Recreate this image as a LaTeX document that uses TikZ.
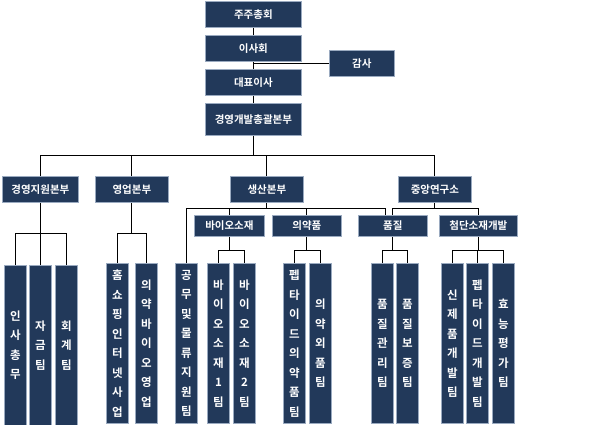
\documentclass[tikz,border=0pt]{standalone}
\usepackage{fontspec}
\newfontfamily\kr{Noto Sans CJK KR Bold}
\definecolor{navy}{HTML}{22395A}
\definecolor{edge}{HTML}{9AAAC0}
\begin{document}
\begin{tikzpicture}[x=1pt,y=-1pt,
  box/.style={draw=edge,line width=0.8pt,fill=navy,text=white,font=\kr\fontsize{10.5}{11}\selectfont,inner sep=0pt,anchor=north west},
  vbox/.style={box,minimum width=22pt,minimum height=160pt,align=center,font=\kr\fontsize{11.5}{19.5}\selectfont},
  conn/.style={line width=1pt,black}]
\useasboundingbox (0,0) rectangle (602,425);
\node[box,minimum width=96pt,minimum height=26pt] (a) at (205,1) {주주총회};
\node[box,minimum width=96pt,minimum height=26pt] (b) at (205,35) {이사회};
\node[box,minimum width=65pt,minimum height=26pt] (gs) at (329,50) {감사};
\node[box,minimum width=96pt,minimum height=26pt] (c) at (205,69) {대표이사};
\node[box,minimum width=96pt,minimum height=32pt] (d) at (205,103) {경영개발총괄본부};
\node[box,minimum width=76pt,minimum height=26pt] (m1) at (2,176) {경영지원본부};
\node[box,minimum width=73pt,minimum height=26pt] (m2) at (95,176) {영업본부};
\node[box,minimum width=73pt,minimum height=26pt] (m3) at (230,176) {생산본부};
\node[box,minimum width=73pt,minimum height=26pt] (m4) at (398,176) {중앙연구소};
\node[box,minimum width=70pt,minimum height=21pt] (s1) at (194,215) {바이오소재};
\node[box,minimum width=69pt,minimum height=21pt] (s2) at (272,215) {의약품};
\node[box,minimum width=69pt,minimum height=21pt] (s3) at (358,215) {품질};
\node[box,minimum width=78pt,minimum height=21pt] (s4) at (439,215) {첨단소재개발};
\node[vbox] (t1) at (4,265) {인\\사\\총\\무};
\node[vbox] (t2) at (29,265) {자\\금\\팀};
\node[vbox] (t3) at (55,265) {회\\계\\팀};
\node[vbox] (t4) at (106,263) {홈\\쇼\\핑\\인\\터\\넷\\사\\업};
\node[vbox] (t5) at (135,263) {의\\약\\바\\이\\오\\영\\업};
\node[vbox] (t6) at (175,263) {공\\무\\및\\물\\류\\지\\원\\팀};
\node[vbox] (t7) at (207,263) {바\\이\\오\\소\\재\\1\\팀};
\node[vbox] (t8) at (233,263) {바\\이\\오\\소\\재\\2\\팀};
\node[vbox] (t9) at (283,263) {펩\\타\\이\\드\\의\\약\\품\\팀};
\node[vbox] (t10) at (309,263) {의\\약\\외\\품\\팀};
\node[vbox] (t11) at (371,263) {품\\질\\관\\리\\팀};
\node[vbox] (t12) at (396,263) {품\\질\\보\\증\\팀};
\node[vbox] (t13) at (441,263) {신\\제\\품\\개\\발\\팀};
\node[vbox] (t14) at (466,263) {펩\\타\\이\\드\\개\\발\\팀};
\node[vbox] (t15) at (492,263) {효\\능\\평\\가\\팀};
% connectors
\draw[conn] (a.south) -- (b.north);
\draw[conn] (b.south) -- (c.north);
\draw[conn] (gs.west) -- (gs.west -| b.south);
\draw[conn] (c.south) -- (d.north);
\draw[conn] (d.south) -- ++(0,20) coordinate (bd);
\foreach \n in {m1,m2,m3,m4} \draw[conn] (bd) -| (\n.north);
\draw[conn] (m1.south) -- (m1.south |- 0,233) coordinate (b1);
\foreach \n in {t1,t2,t3} \draw[conn] (b1) -| (\n.north);
\draw[conn] (m2.south) -- (m2.south |- 0,233) coordinate (b2);
\foreach \n in {t4,t5} \draw[conn] (b2) -| (\n.north);
\draw[conn] (m3.south) -- ++(0,6) coordinate (b3);
\foreach \n in {t6,s1,s2} \draw[conn] (b3) -| (\n.north);
\draw[conn] (b3) -| ([xshift=-7pt]s3.north);
\draw[conn] (m4.south) -- ++(0,6) coordinate (b4);
\foreach \n in {s3,s4} \draw[conn] (b4) -| (\n.north);
\draw[conn] (s1.south) -- (s1.south |- 0,250) coordinate (c1);
\foreach \n in {t7,t8} \draw[conn] (c1) -| (\n.north);
\draw[conn] (s2.south) -- (s2.south |- 0,250) coordinate (c2);
\foreach \n in {t9,t10} \draw[conn] (c2) -| (\n.north);
\draw[conn] (s3.south) -- (s3.south |- 0,250) coordinate (c3);
\foreach \n in {t11,t12} \draw[conn] (c3) -| (\n.north);
\draw[conn] (s4.south) -- (s4.south |- 0,250) coordinate (c4);
\foreach \n in {t13,t14,t15} \draw[conn] (c4) -| (\n.north);
\end{tikzpicture}
\end{document}
